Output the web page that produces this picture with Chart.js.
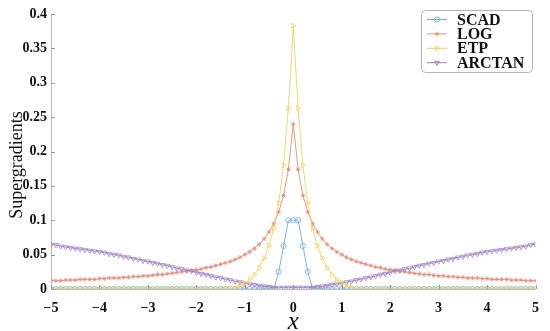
<!DOCTYPE html>
<html>
<head>
<meta charset="utf-8">
<script src="https://cdn.jsdelivr.net/npm/chart.js@4/dist/chart.umd.min.js"></script>
<style>
  html, body { margin: 0; padding: 0; background: #fff; }
  #wrap { width: 550px; height: 331px; position: relative; }
</style>
</head>
<body>
<div id="wrap"><canvas id="supergradChart"></canvas></div>
<script>
// x grid, step 0.1
const xValues = [
  -5.0, -4.9, -4.8, -4.7, -4.6, -4.5, -4.4, -4.3, -4.2, -4.1,
  -4.0, -3.9, -3.8, -3.7, -3.6, -3.5, -3.4, -3.3, -3.2, -3.1,
  -3.0, -2.9, -2.8, -2.7, -2.6, -2.5, -2.4, -2.3, -2.2, -2.1,
  -2.0, -1.9, -1.8, -1.7, -1.6, -1.5, -1.4, -1.3, -1.2, -1.1,
  -1.0, -0.9, -0.8, -0.7, -0.6, -0.5, -0.4, -0.3, -0.2, -0.1,
  0.0,
  0.1, 0.2, 0.3, 0.4, 0.5, 0.6, 0.7, 0.8, 0.9, 1.0,
  1.1, 1.2, 1.3, 1.4, 1.5, 1.6, 1.7, 1.8, 1.9, 2.0,
  2.1, 2.2, 2.3, 2.4, 2.5, 2.6, 2.7, 2.8, 2.9, 3.0,
  3.1, 3.2, 3.3, 3.4, 3.5, 3.6, 3.7, 3.8, 3.9, 4.0,
  4.1, 4.2, 4.3, 4.4, 4.5, 4.6, 4.7, 4.8, 4.9, 5.0
];

const scadValues = [
  0, 0, 0, 0, 0, 0, 0, 0, 0, 0,
  0, 0, 0, 0, 0, 0, 0, 0, 0, 0,
  0, 0, 0, 0, 0, 0, 0, 0, 0, 0,
  0, 0, 0, 0, 0, 0, 0, 0, 0, 0,
  0, 0, 0, 0, 0, 0, 0, 0.025, 0.0625, 0.1,
  0.1,
  0.1, 0.0625, 0.025, 0, 0, 0, 0, 0, 0, 0,
  0, 0, 0, 0, 0, 0, 0, 0, 0, 0,
  0, 0, 0, 0, 0, 0, 0, 0, 0, 0,
  0, 0, 0, 0, 0, 0, 0, 0, 0, 0,
  0, 0, 0, 0, 0, 0, 0, 0, 0, 0
];

const logValues = [
  0.012, 0.012, 0.012, 0.013, 0.013, 0.013, 0.014, 0.014, 0.014, 0.014,
  0.015, 0.015, 0.016, 0.016, 0.016, 0.017, 0.017, 0.018, 0.018, 0.019,
  0.019, 0.020, 0.021, 0.021, 0.022, 0.023, 0.024, 0.025, 0.026, 0.027,
  0.028, 0.029, 0.031, 0.032, 0.034, 0.036, 0.038, 0.040, 0.043, 0.046,
  0.050, 0.054, 0.059, 0.065, 0.073, 0.083, 0.095, 0.112, 0.136, 0.174,
  0.240,
  0.174, 0.136, 0.112, 0.095, 0.083, 0.073, 0.065, 0.059, 0.054, 0.050,
  0.046, 0.043, 0.040, 0.038, 0.036, 0.034, 0.032, 0.031, 0.029, 0.028,
  0.027, 0.026, 0.025, 0.024, 0.023, 0.022, 0.021, 0.021, 0.020, 0.019,
  0.019, 0.018, 0.018, 0.017, 0.017, 0.016, 0.016, 0.016, 0.015, 0.015,
  0.014, 0.014, 0.014, 0.014, 0.013, 0.013, 0.013, 0.012, 0.012, 0.012
];

const etpValues = [
  0, 0, 0, 0, 0, 0, 0, 0, 0, 0,
  0, 0, 0, 0, 0, 0, 0, 0, 0, 0,
  0, 0, 0, 0, 0, 0, 0, 0, 0, 0,
  0, 0, 0, 0, 0, 0, 0, 0.001, 0.002, 0.005,
  0.009, 0.014, 0.021, 0.031, 0.045, 0.063, 0.088, 0.125, 0.180, 0.263,
  0.383,
  0.263, 0.180, 0.125, 0.088, 0.063, 0.045, 0.031, 0.021, 0.014, 0.009,
  0.005, 0.002, 0.001, 0, 0, 0, 0, 0, 0, 0,
  0, 0, 0, 0, 0, 0, 0, 0, 0, 0,
  0, 0, 0, 0, 0, 0, 0, 0, 0, 0,
  0, 0, 0, 0, 0, 0, 0, 0, 0, 0
];

const arctanValues = [
  0.065, 0.064, 0.062, 0.061, 0.060, 0.059, 0.058, 0.057, 0.056, 0.055,
  0.054, 0.053, 0.051, 0.050, 0.049, 0.047, 0.046, 0.044, 0.043, 0.041,
  0.040, 0.038, 0.037, 0.035, 0.034, 0.032, 0.030, 0.029, 0.027, 0.026,
  0.024, 0.022, 0.021, 0.019, 0.017, 0.016, 0.014, 0.013, 0.011, 0.010,
  0.008, 0.007, 0.006, 0.005, 0.004, 0.003, 0.002, 0.002, 0.002, 0.002,
  0.002,
  0.002, 0.002, 0.002, 0.002, 0.003, 0.004, 0.005, 0.006, 0.007, 0.008,
  0.010, 0.011, 0.013, 0.014, 0.016, 0.017, 0.019, 0.021, 0.022, 0.024,
  0.026, 0.027, 0.029, 0.030, 0.032, 0.034, 0.035, 0.037, 0.038, 0.040,
  0.041, 0.043, 0.044, 0.046, 0.047, 0.049, 0.050, 0.051, 0.053, 0.054,
  0.055, 0.056, 0.057, 0.058, 0.059, 0.060, 0.061, 0.062, 0.064, 0.065
];

const seriesNames = ['SCAD', 'LOG', 'ETP', 'ARCTAN'];
const xTickValues = [-5, -4, -3, -2, -1, 0, 1, 2, 3, 4, 5];
const yTickValues = [0, 0.05, 0.1, 0.15, 0.2, 0.25, 0.3, 0.35, 0.4];

const serif = '"Liberation Serif", "DejaVu Serif", serif';

function toPoints(ys) {
  return xValues.map((x, i) => ({ x: x, y: ys[i] }));
}

const styles = [
  { color: 'rgb(110, 172, 218)', pointStyle: 'circle',   rotation: 0,   radius: 2.6, order: 4 },
  { color: 'rgb(222, 145, 125)', pointStyle: 'star',     rotation: 0,   radius: 2.3, order: 3 },
  { color: 'rgb(236, 210, 105)', pointStyle: 'triangle', rotation: 90,  radius: 2.8, order: 1 },
  { color: 'rgb(160, 125, 195)', pointStyle: 'triangle', rotation: 180, radius: 2.8, order: 2 }
];
const seriesData = [scadValues, logValues, etpValues, arctanValues];

const datasets = seriesNames.map((name, k) => ({
  label: name,
  data: toPoints(seriesData[k]),
  borderColor: styles[k].color,
  borderWidth: 0.9,
  pointStyle: styles[k].pointStyle,
  pointRotation: styles[k].rotation,
  pointRadius: styles[k].radius,
  pointBorderWidth: 0.8,
  pointBorderColor: styles[k].color,
  pointBackgroundColor: 'rgba(255,255,255,0)',
  tension: 0,
  order: styles[k].order
}));

// little inward tick marks on both axes
const innerTicks = {
  id: 'innerTicks',
  afterDraw(chart) {
    const c = chart.ctx, a = chart.chartArea;
    c.save();
    c.strokeStyle = '#999';
    c.lineWidth = 1;
    xTickValues.forEach(v => {
      const px = Math.round(chart.scales.x.getPixelForValue(v)) + 0.5;
      c.beginPath(); c.moveTo(px, a.bottom); c.lineTo(px, a.bottom - 4); c.stroke();
    });
    yTickValues.forEach(v => {
      const py = Math.round(chart.scales.y.getPixelForValue(v)) + 0.5;
      c.beginPath(); c.moveTo(a.left, py); c.lineTo(a.left + 4, py); c.stroke();
    });
    c.restore();
  }
};

function drawMarker(c, st, x, y) {
  c.save();
  c.translate(x, y);
  c.rotate(st.rotation * Math.PI / 180);
  c.strokeStyle = st.color;
  c.lineWidth = 0.9;
  const r = st.radius;
  c.beginPath();
  if (st.pointStyle === 'circle') {
    c.arc(0, 0, r, 0, Math.PI * 2);
  } else if (st.pointStyle === 'triangle') {
    c.moveTo(0, -r); c.lineTo(r * 0.87, r * 0.5); c.lineTo(-r * 0.87, r * 0.5); c.closePath();
  } else {
    c.moveTo(-r, 0); c.lineTo(r, 0); c.moveTo(0, -r); c.lineTo(0, r);
    c.moveTo(-r * 0.7, -r * 0.7); c.lineTo(r * 0.7, r * 0.7);
    c.moveTo(-r * 0.7, r * 0.7); c.lineTo(r * 0.7, -r * 0.7);
  }
  c.stroke();
  c.restore();
}

// boxed legend in the top right corner
const boxLegend = {
  id: 'boxLegend',
  afterDraw(chart) {
    const c = chart.ctx;
    const bx = 421, by = 10, bw = 111, bh = 62;
    c.save();
    c.strokeStyle = '#b5b5b5';
    c.lineWidth = 1;
    c.beginPath();
    c.roundRect(bx + 0.5, by + 0.5, bw, bh, 4);
    c.fillStyle = '#fff';
    c.fill();
    c.stroke();
    c.font = 'bold 16px ' + serif;
    c.textBaseline = 'middle';
    seriesNames.forEach((name, k) => {
      const y = by + 9.5 + k * 14.4;
      c.strokeStyle = styles[k].color;
      c.lineWidth = 1;
      c.beginPath(); c.moveTo(427, y); c.lineTo(447, y); c.stroke();
      drawMarker(c, styles[k], 437, y);
      c.fillStyle = '#111';
      c.fillText(name, 457, y + 1);
    });
    c.restore();
  }
};

new Chart(document.getElementById('supergradChart'), {
  type: 'line',
  data: { datasets: datasets },
  options: {
    responsive: true,
    maintainAspectRatio: false,
    animation: false,
    layout: { padding: { left: 0, right: 13, top: 14, bottom: 0 } },
    plugins: {
      legend: { display: false },
      tooltip: { enabled: false }
    },
    scales: {
      x: {
        type: 'linear',
        min: -5,
        max: 5,
        afterFit(scale) { scale.height = 42; },
        afterBuildTicks(scale) { scale.ticks = xTickValues.map(v => ({ value: v })); },
        grid: { display: true, drawOnChartArea: false, drawTicks: false },
        border: { color: '#bdbdbd' },
        ticks: {
          padding: 11,
          color: '#111',
          font: { family: serif, size: 14, weight: 'bold' },
          callback: v => String(v).replace('-', '\u2212')
        },
        title: {
          display: true,
          text: 'x',
          color: '#111',
          padding: { top: 0, bottom: -6 },
          font: { family: serif, size: 25, style: 'italic' }
        }
      },
      y: {
        min: 0,
        max: 0.4,
        afterFit(scale) { scale.width = 51; },
        afterBuildTicks(scale) { scale.ticks = yTickValues.map(v => ({ value: v })); },
        grid: { display: true, drawOnChartArea: false, drawTicks: false },
        border: { color: '#bdbdbd' },
        ticks: {
          padding: 4,
          color: '#111',
          font: { family: serif, size: 14, weight: 'bold' },
          callback: v => String(+v.toFixed(2))
        },
        title: {
          display: true,
          // trailing spaces push the visible words down, as in the reference
          text: 'Supergradients      ',
          color: '#111',
          padding: { top: 6, bottom: 0 },
          font: { family: serif, size: 18 }
        }
      }
    }
  },
  plugins: [innerTicks, boxLegend]
});
</script>
</body>
</html>
